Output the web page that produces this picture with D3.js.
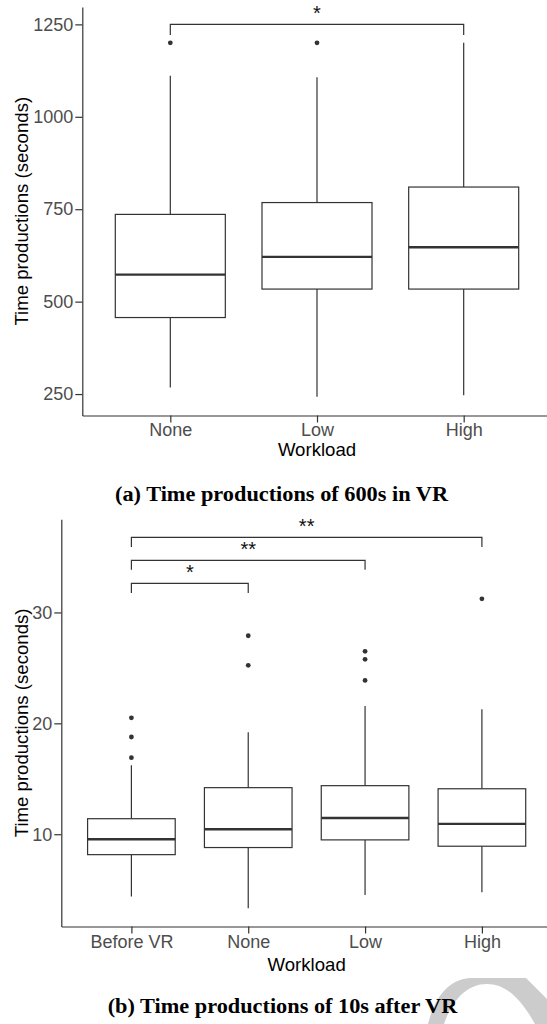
<!DOCTYPE html>
<html lang="en">
<head>
  <meta charset="UTF-8">
  <title>Time productions</title>
  <style>
    html, body { margin: 0; padding: 0; background: #fff; }
    svg { display: block; }
  </style>
</head>
<body>
  <svg id="chart" width="547" height="1024"></svg>
  <script src="https://cdn.jsdelivr.net/npm/d3@7"></script>
  <script>

  // (a) Time productions of 600s in VR
  const categoriesA = ["None", "Low", "High"];
  const lowerA   = [268, 243, 247];
  const q1A      = [457, 534, 534];
  const medianA  = [573, 621, 647];
  const q3A      = [736, 768, 810];
  const upperA   = [1111, 1107, 1200];
  const outliersA = [[1200], [1200], []];
  const ticksA = [250, 500, 750, 1000, 1250];
  const bracketsA = [
    { from: "None", to: "High", y: 1250, label: "*" }
  ];

  // (b) Time productions of 10s after VR
  const categoriesB = ["Before VR", "None", "Low", "High"];
  const lowerB   = [4.38, 3.33, 4.53, 4.77];
  const q1B      = [8.16, 8.8, 9.49, 8.92];
  const medianB  = [9.55, 10.45, 11.47, 10.93];
  const q3B      = [11.4, 14.2, 14.38, 14.1];
  const upperB   = [16.22, 19.19, 21.56, 21.26];
  const outliersB = [[16.9, 18.77, 20.5], [25.23, 27.9], [23.87, 25.77, 26.49], [31.23]];
  const ticksB = [10, 20, 30];
  const bracketsB = [
    { from: "Before VR", to: "High", y: 36.77, label: "**" },
    { from: "Before VR", to: "Low", y: 34.7, label: "**" },
    { from: "Before VR", to: "None", y: 32.62, label: "*" }
  ];

  const svg = d3.select('#chart');
  const sans = 'Liberation Sans, Arial, sans-serif';
  const ink = '#333333';

  function drawPanel(cfg) {
    const g = svg.append('g');
    const x = d3.scalePoint().domain(cfg.categories).range([cfg.left, cfg.right]).padding(0.6);
    const y = d3.scaleLinear().domain(cfg.domain).range([cfg.bottom, cfg.top]);
    const bw = x.step() * 0.75;

    const rows = cfg.categories.map((c, i) => ({
      cat: c, lo: cfg.lower[i], q1: cfg.q1[i], med: cfg.median[i],
      q3: cfg.q3[i], hi: cfg.upper[i], out: cfg.outliers[i]
    }));

    // whiskers
    g.append('g').selectAll('line.up').data(rows).enter().append('line')
      .attr('x1', d => x(d.cat)).attr('x2', d => x(d.cat))
      .attr('y1', d => y(d.hi)).attr('y2', d => y(d.q3))
      .attr('stroke', ink).attr('stroke-width', 1.2);
    g.append('g').selectAll('line.lo').data(rows).enter().append('line')
      .attr('x1', d => x(d.cat)).attr('x2', d => x(d.cat))
      .attr('y1', d => y(d.q1)).attr('y2', d => y(d.lo))
      .attr('stroke', ink).attr('stroke-width', 1.2);

    // boxes
    g.append('g').selectAll('rect').data(rows).enter().append('rect')
      .attr('x', d => x(d.cat) - bw / 2)
      .attr('y', d => y(d.q3))
      .attr('width', bw)
      .attr('height', d => y(d.q1) - y(d.q3))
      .attr('fill', '#fff')
      .attr('stroke', ink).attr('stroke-width', 1.2);

    // medians
    g.append('g').selectAll('line').data(rows).enter().append('line')
      .attr('x1', d => x(d.cat) - bw / 2).attr('x2', d => x(d.cat) + bw / 2)
      .attr('y1', d => y(d.med)).attr('y2', d => y(d.med))
      .attr('stroke', ink).attr('stroke-width', 2.4);

    // outliers
    const pts = rows.flatMap(d => d.out.map(v => ({ cat: d.cat, v })));
    g.append('g').selectAll('circle').data(pts).enter().append('circle')
      .attr('cx', d => x(d.cat)).attr('cy', d => y(d.v))
      .attr('r', 2.4).attr('fill', ink);

    // significance brackets
    const tip = cfg.tip;
    const br = g.append('g').selectAll('g').data(cfg.brackets).enter().append('g');
    br.append('path')
      .attr('d', d => `M${x(d.from)},${y(d.y) + tip}V${y(d.y)}H${x(d.to)}V${y(d.y) + tip}`)
      .attr('fill', 'none').attr('stroke', ink).attr('stroke-width', 1.2);
    br.append('text')
      .attr('x', d => (x(d.from) + x(d.to)) / 2)
      .attr('y', d => y(d.y) - 4.5)
      .attr('text-anchor', 'middle')
      .attr('font-family', sans).attr('font-size', 20)
      .attr('fill', '#111')
      .text(d => d.label);

    // axes
    const yAxis = g.append('g').attr('transform', `translate(${cfg.left},0)`)
      .call(d3.axisLeft(y).tickValues(cfg.ticks).tickFormat(d3.format('d'))
        .tickSize(7).tickPadding(2).tickSizeOuter(0));
    const xAxis = g.append('g').attr('transform', `translate(0,${cfg.bottom})`)
      .call(d3.axisBottom(x).tickSize(7).tickPadding(cfg.xPad).tickSizeOuter(0));
    [yAxis, xAxis].forEach(a => {
      a.select('.domain').attr('stroke', ink).attr('stroke-width', 1.2);
      a.selectAll('.tick line').attr('stroke', ink).attr('stroke-width', 1.2);
      a.selectAll('.tick text').attr('fill', '#4d4d4d')
        .attr('font-family', sans).attr('font-size', 18);
    });

    // axis titles
    g.append('text')
      .attr('x', (cfg.left + cfg.right) / 2)
      .attr('y', cfg.xTitleY)
      .attr('text-anchor', 'middle')
      .attr('font-family', sans).attr('font-size', 18.6)
      .attr('fill', '#000')
      .text('Workload');
    g.append('text')
      .attr('transform', `translate(27.8,${(cfg.top + cfg.bottom) / 2}) rotate(-90)`)
      .attr('text-anchor', 'middle')
      .attr('font-family', sans).attr('font-size', 18.6)
      .attr('fill', '#000')
      .text('Time productions (seconds)');
  }

  drawPanel({
    categories: categoriesA, lower: lowerA, q1: q1A, median: medianA, q3: q3A,
    upper: upperA, outliers: outliersA, ticks: ticksA, brackets: bracketsA,
    domain: [192, 1297], left: 82.3, right: 551.7, top: 7, bottom: 415.5,
    tip: 10.5, xPad: 0.5, xTitleY: 456
  });

  drawPanel({
    categories: categoriesB, lower: lowerB, q1: q1B, median: medianB, q3: q3B,
    upper: upperB, outliers: outliersB, ticks: ticksB, brackets: bracketsB,
    domain: [1.68, 38.4], left: 61.3, right: 552, top: 519.3, bottom: 926.5,
    tip: 9.5, xPad: 1.5, xTitleY: 970.5
  });

  // captions
  const serif = 'Liberation Serif, Times New Roman, serif';
  svg.append('text')
    .attr('x', 115).attr('y', 500.7)
    .attr('textLength', 333).attr('lengthAdjust', 'spacingAndGlyphs')
    .attr('font-family', serif).attr('font-weight', 'bold').attr('font-size', 20.5)
    .text('(a) Time productions of 600s in VR');
  svg.append('text')
    .attr('x', 107.7).attr('y', 1012.5)
    .attr('textLength', 349.6).attr('lengthAdjust', 'spacingAndGlyphs')
    .attr('font-family', serif).attr('font-weight', 'bold').attr('font-size', 20.5)
    .text('(b) Time productions of 10s after VR');

  // grey watermark arc in the corner
  svg.insert('path', ':first-child')
    .attr('d', 'M428,1024C435,998 447,980 470,978L526,978L547,999L547,1024L535,1024C521,999 506,984 487,984C467,984 452,1000 444,1024Z')
    .attr('fill', '#cccccc');

  </script>
</body>
</html>
